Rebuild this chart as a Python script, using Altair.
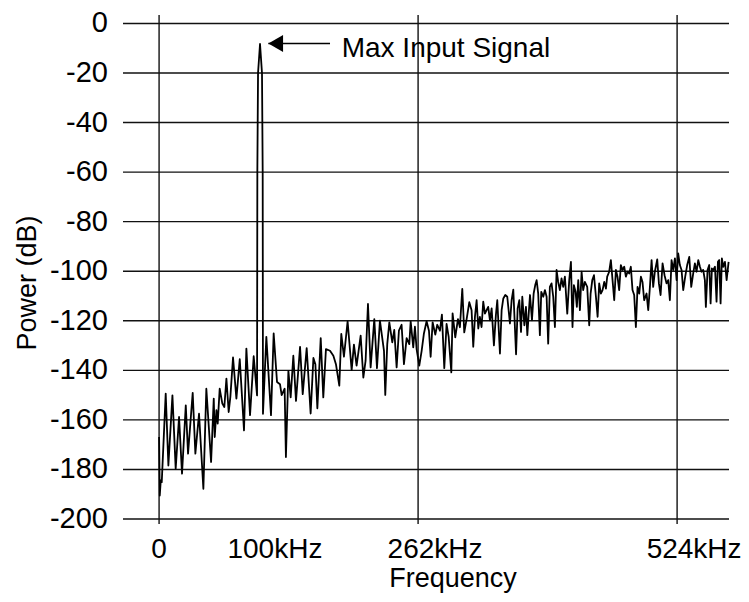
import altair as alt
import pandas as pd

# ---- data ----
freq_khz = [
    0.0, 0.7, 1.7, 2.7, 6.7, 9.4, 13.5, 16.8, 20.2, 23.2, 27.0, 29.3, 34.0, 36.7,
    40.4, 44.8, 47.8, 52.6, 55.3, 56.3, 58.0, 59.3, 61.3, 64.0, 66.0, 68.1, 70.4,
    72.1, 74.8, 78.2, 81.6, 83.9, 85.9, 88.3, 92.0, 95.7, 99.1,
    99.4, 100.1, 102.1, 104.1, 104.8, 105.1,
    108.5, 113.2, 115.9, 119.3, 122.3, 124.0, 127.0, 128.3, 130.8, 133.1, 135.8,
    138.5, 142.6, 145.3, 149.3, 153.3, 156.1, 158.1, 160.1, 163.5, 166.1, 168.8,
    172.9, 176.3, 178.9, 182.3, 184.3, 187.0, 190.7, 194.8, 197.1, 199.8, 203.9,
    206.6, 208.9, 211.3, 214.0, 217.7, 220.4, 223.4, 227.5, 228.8, 230.8, 232.9,
    235.9, 237.9, 240.3, 242.6, 245.3, 247.7, 250.4, 253.1, 254.5, 257.1, 258.8,
    260.5, 263.2, 265.6, 267.9, 270.6, 273.0, 274.7, 276.7, 279.4, 281.4, 284.1,
    286.1, 288.5, 290.8, 292.9, 295.6, 296.9, 299.6, 302.3, 304.3, 306.7, 308.7,
    311.1, 313.8, 316.1, 317.8, 319.5, 321.2, 322.9, 324.5, 326.2, 327.9, 329.6,
    331.3, 332.9, 334.7, 336.4, 338.7, 340.7, 342.1, 344.8, 346.5, 348.2, 350.2,
    352.2, 354.9, 356.6, 358.3, 361.1, 362.7, 364.4, 366.1, 367.4, 369.5, 371.1,
    372.5, 373.8, 375.2, 377.2, 378.9, 380.5, 381.9, 383.5, 385.2, 386.6, 388.6,
    390.3, 392.0, 393.6, 395.3, 397.0, 398.7, 400.4, 402.1, 403.7, 405.4, 407.1,
    408.8, 410.5, 412.9, 414.9, 416.6, 418.2, 419.6, 421.3, 422.6, 424.0, 425.7,
    427.4, 429.0, 430.7, 433.1, 435.1, 436.5, 438.2, 439.9, 441.9, 443.6, 445.2,
    446.9, 448.6, 450.3, 452.0, 453.3, 455.3, 457.0, 458.7, 460.4, 462.1, 463.7,
    465.4, 467.1, 468.8, 470.5, 472.2, 473.9, 475.5, 477.2, 478.9, 480.6, 482.3,
    484.0, 485.7, 487.4, 489.0, 490.7, 493.1, 494.8, 496.5, 498.2, 499.8, 501.5,
    503.9, 505.6, 507.3, 509.3, 511.3, 513.3, 515.0, 516.7, 518.4, 520.1, 521.8,
    523.5, 525.1, 526.8, 528.5, 530.2, 532.2, 534.2, 536.3, 538.3, 540.3, 542.0,
    543.7, 545.4, 547.1, 548.7, 550.4, 552.1, 553.1, 554.8, 556.5, 557.9, 559.2,
    560.6, 562.3, 563.9, 565.3, 566.6, 568.0, 569.3, 570.7, 572.4, 574.1, 576.1,
]
power_db = [
    -166.9, -190.5, -184.4, -185.1, -149.4, -178.4, -150.1, -179.7, -158.8, -181.7,
    -154.1, -173.6, -149.1, -173.6, -157.5, -187.8, -147.4, -177.0, -151.4, -166.9,
    -156.1, -161.5, -147.4, -153.4, -154.8, -143.3, -156.8, -150.7, -134.8, -151.4,
    -135.5, -150.7, -164.2, -131.2, -158.1, -134.3, -150.1,
    -60.0, -20.0, -8.3, -20.0, -60.0, -157.5,
    -126.5, -158.1, -125.1, -144.7, -145.6, -150.0, -147.4, -175.0, -140.2, -150.9,
    -134.1, -152.3, -130.5, -149.6, -131.0, -157.4, -135.0, -137.5, -155.3, -127.0,
    -150.9, -131.4, -132.1, -134.1, -137.5, -146.2, -125.3, -134.5, -120.2, -139.9,
    -129.6, -138.1, -126.0, -142.9, -136.1, -113.2, -138.8, -119.3, -139.1, -119.9,
    -132.1, -149.9, -129.4, -120.6, -128.7, -123.7, -138.8, -124.0, -121.6, -137.5,
    -127.0, -129.4, -120.2, -130.7, -122.4, -131.4, -138.1, -132.1, -125.1, -120.2,
    -124.0, -134.5, -120.6, -125.6, -121.6, -124.0, -117.5, -139.1, -121.3, -126.4,
    -140.8, -117.0, -126.7, -119.3, -122.6, -107.1, -124.7, -119.3, -112.5, -115.7,
    -130.5, -118.4, -111.7, -123.1, -118.4, -122.5, -112.3, -117.1, -115.7, -114.4,
    -119.8, -115.0, -129.9, -117.7, -111.7, -133.2, -115.7, -111.0, -109.6, -110.3,
    -121.1, -111.7, -107.4, -133.5, -115.0, -111.7, -124.5, -110.3, -121.8, -114.4,
    -125.8, -117.7, -109.6, -119.8, -109.0, -105.6, -103.6, -109.0, -125.8, -108.3,
    -110.3, -107.6, -110.3, -129.2, -106.3, -104.9, -110.3, -122.5, -99.5, -104.3,
    -107.6, -102.9, -106.3, -102.2, -117.1, -103.6, -96.2, -122.5, -105.6, -108.3,
    -114.4, -103.6, -115.7, -100.2, -107.6, -104.3, -106.3, -121.8, -109.0, -103.6,
    -101.6, -110.3, -118.4, -104.9, -109.0, -107.6, -104.3, -107.0, -102.2, -100.2,
    -95.5, -103.6, -111.7, -99.5, -102.2, -107.6, -97.5, -99.5, -98.2, -102.2,
    -100.2, -100.9, -98.2, -107.6, -109.6, -122.5, -106.3, -109.0, -102.2, -104.3,
    -111.7, -109.0, -115.7, -106.3, -95.5, -106.3, -100.2, -95.2, -104.9, -109.6,
    -96.8, -101.6, -104.9, -103.6, -111.7, -95.5, -99.5, -94.8, -103.6, -92.8,
    -97.5, -99.5, -107.6, -102.2, -97.5, -94.2, -106.3, -100.9, -96.8, -100.2,
    -95.5, -98.2, -100.2, -99.5, -103.6, -114.4, -99.5, -97.5, -113.0, -98.9,
    -99.5, -98.2, -112.3, -96.2, -95.5, -113.0, -94.8, -98.2, -96.2, -103.6, -96.2,
]

y_ticks = [0, -20, -40, -60, -80, -100, -120, -140, -160, -180, -200]
y_tick_labels = [str(v) for v in y_ticks]
x_grid = [0, 262, 524]
x_tick_values = [0, 100, 262, 524]
x_tick_labels = ["0", "100kHz", "262kHz", "524kHz"]

annotation_label = ["Max Input Signal"]
arrow_tip_khz = [110.5]
arrow_end_khz = [172.9]
arrow_db = [-8.1]
label_khz = [184.7]
label_db = [-13.5]

FONT = "Liberation Sans"
XS = alt.Scale(domain=[-36.5, 576.5], nice=False, zero=False)
YS = alt.Scale(domain=[-202, 3.4], nice=False, zero=False)

spec = pd.DataFrame({"f": freq_khz, "p": power_db})
hgrid = pd.DataFrame({"v": y_ticks, "label": y_tick_labels})
vgrid = pd.DataFrame({"v": x_grid})
xlab = pd.DataFrame({"v": x_tick_values, "label": x_tick_labels})
ann = pd.DataFrame({"tip": arrow_tip_khz, "end": arrow_end_khz, "y": arrow_db,
                    "lx": label_khz, "ly": label_db, "label": annotation_label})

h_rules = alt.Chart(hgrid).mark_rule(color="#111111", strokeWidth=1.4).encode(
    y=alt.Y("v:Q", scale=YS, axis=None),
)
y_labels = alt.Chart(hgrid).mark_text(
    font=FONT, fontSize=29, align="right", baseline="middle", color="black"
).encode(x=alt.value(-15), y=alt.Y("v:Q", scale=YS, axis=None), text="label:N")

y_title = alt.Chart(pd.DataFrame({"t": ["Power (dB)"]})).mark_text(
    font=FONT, fontSize=27, angle=270, align="center", baseline="middle", color="black"
).encode(x=alt.value(-95), y=alt.value(268), text="t:N")

v_rules = alt.Chart(vgrid).mark_rule(color="#111111", strokeWidth=1.4).encode(
    x=alt.X("v:Q", scale=XS, axis=None),
)

line = alt.Chart(spec).mark_line(color="black", strokeWidth=1.8, strokeJoin="round").encode(
    x=alt.X("f:Q", scale=XS, axis=None),
    y=alt.Y("p:Q", scale=YS, axis=None),
    order=alt.Order("f:Q"),
)

zero_label = alt.Chart(xlab).transform_filter("datum.v == 0").mark_text(
    font=FONT, fontSize=28, baseline="alphabetic", align="center", color="black"
).encode(x=alt.X("v:Q", scale=XS, axis=None), y=alt.value(543), text="label:N")

khz_labels = alt.Chart(xlab).transform_filter("datum.v > 0").mark_text(
    font=FONT, fontSize=28, baseline="alphabetic", align="center", color="black", dx=17
).encode(x=alt.X("v:Q", scale=XS, axis=None), y=alt.value(543), text="label:N")

x_title = alt.Chart(pd.DataFrame({"t": ["Frequency"]})).mark_text(
    font=FONT, fontSize=27, baseline="alphabetic", align="center", color="black"
).encode(x=alt.value(330), y=alt.value(572), text="t:N")

arrow_line = alt.Chart(ann).mark_rule(color="black", strokeWidth=1.5).encode(
    x=alt.X("tip:Q", scale=XS, axis=None), x2="end:Q",
    y=alt.Y("y:Q", scale=YS, axis=None),
)
arrow_head = alt.Chart(ann).mark_point(
    shape="triangle-left", filled=True, size=289, color="black", opacity=1, xOffset=7.4
).encode(x=alt.X("tip:Q", scale=XS, axis=None), y=alt.Y("y:Q", scale=YS, axis=None))
arrow_text = alt.Chart(ann).mark_text(
    font=FONT, fontSize=28, align="left", baseline="alphabetic", color="black"
).encode(x=alt.X("lx:Q", scale=XS, axis=None), y=alt.Y("ly:Q", scale=YS, axis=None),
         text="label:N")

chart = alt.layer(
    h_rules, v_rules, line, y_labels, y_title, zero_label, khz_labels, x_title,
    arrow_line, arrow_head, arrow_text
).properties(
    width=606, height=509,
    autosize=alt.AutoSizeParams(type="none"),
    padding={"left": 123, "top": 15, "right": 20, "bottom": 78},
    background="white",
).configure_view(strokeWidth=0)

chart.save("out.html", embed_options={"renderer": "svg", "actions": False})
